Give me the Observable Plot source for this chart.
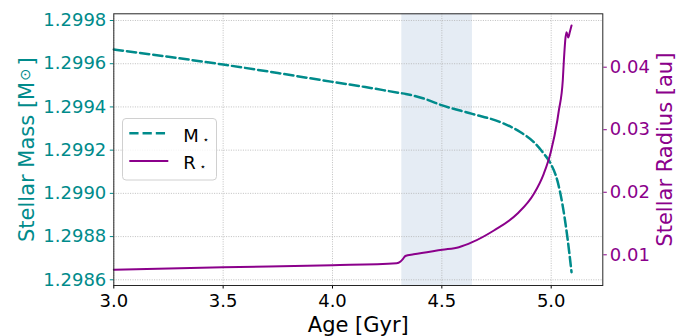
<!DOCTYPE html>
<html><head><meta charset="utf-8">
<script src="https://cdn.jsdelivr.net/npm/d3@7"></script>
<script src="https://cdn.jsdelivr.net/npm/@observablehq/plot@0.6"></script>
<style>
html,body{margin:0;padding:0;background:#fff;}
#wrap{position:relative;width:686px;height:336px;font-family:"DejaVu Sans",sans-serif;}
#legend{position:absolute;left:122px;top:118px;}
</style></head><body><div id="wrap"></div>
<script>
// ---- data ----
const massAge = [3.0, 3.25, 3.5, 3.75, 4.0, 4.15, 4.311, 4.335, 4.42, 4.502, 4.639, 4.769, 4.860, 4.921, 4.967, 4.998, 5.028, 5.051, 5.074, 5.093];
const massVal = [1.299666, 1.299632, 1.299596, 1.299557, 1.299516, 1.299492, 1.299464, 1.299460, 1.299438, 1.299407, 1.299368, 1.299329, 1.299283, 1.299237, 1.299183, 1.299137, 1.299060, 1.298952, 1.298797, 1.298635];
const radiusAge = [3.0, 3.5, 4.0, 4.294, 4.311, 4.322, 4.333, 4.371, 4.502, 4.578, 4.639, 4.738, 4.845, 4.921, 4.966, 4.998, 5.028, 5.035, 5.053, 5.058, 5.070, 5.078, 5.085, 5.093];
const radiusVal = [0.007601, 0.008017, 0.008337, 0.008657, 0.008929, 0.009328, 0.009808, 0.010080, 0.010800, 0.011215, 0.012015, 0.013886, 0.016557, 0.019755, 0.022954, 0.026408, 0.031478, 0.033077, 0.037875, 0.041073, 0.045599, 0.044751, 0.045599, 0.046671];
const bandRange = [4.317, 4.640];
const xTicks = [3.0, 3.5, 4.0, 4.5, 5.0];
const massTicks = [1.2986, 1.2988, 1.2990, 1.2992, 1.2994, 1.2996, 1.2998];
const radiusTicks = [0.01, 0.02, 0.03, 0.04];
const xLabel = "Age [Gyr]";
const massLabel = "Stellar Mass [M⊙]";
const radiusLabel = "Stellar Radius [au]";
const seriesNames = ["M", "R"];

// ---- scales ----
const xDomain = [3.0, 5.236];
const massDomain = [1.2985736, 1.299831];
const radiusDomain = [0.00509, 0.04854];
const teal = "#008b8b", purple = "#8b008b";
const rToMass = d3.scaleLinear().domain(radiusDomain).range(massDomain);

const massData = massAge.map((a, i) => ({age: a, v: massVal[i]}));
const radiusData = radiusAge.map((a, i) => ({age: a, v: rToMass(radiusVal[i])}));
const gridStyle = {stroke: "#b0b0b0", strokeOpacity: 1, strokeWidth: 0.8, strokeDasharray: "1,1.4"};

const chart = Plot.plot({
  width: 686, height: 336,
  marginLeft: 113.3, marginRight: 686 - 602.3, marginTop: 13.3, marginBottom: 51,
  style: {fontFamily: "DejaVu Sans", fontSize: "18px", background: "transparent", overflow: "visible"},
  x: {domain: xDomain},
  y: {domain: massDomain},
  marks: [
    Plot.rect([bandRange], {x1: d => d[0], x2: d => d[1], fill: "#b0c4de", fillOpacity: 0.33}),
    Plot.gridX(xTicks, gridStyle),
    Plot.gridY(massTicks, gridStyle),
    Plot.axisX(xTicks, {tickFormat: d => d.toFixed(1), tickSize: 3.5, tickPadding: 5.4, fontSize: 18, color: "#000", label: null}),
    Plot.axisY(massTicks, {anchor: "left", tickFormat: d => d.toFixed(4), tickSize: 3.5, tickPadding: 4, fontSize: 18, color: teal, label: null}),
    Plot.axisY(radiusTicks.map(rToMass), {anchor: "right", tickFormat: d => rToMass.invert(d).toFixed(2), tickSize: 3.5, tickPadding: 3.5, fontSize: 18, color: purple, label: null}),
    Plot.line(massData, {x: "age", y: "v", stroke: teal, strokeWidth: 2.5, strokeDasharray: "9.25,4", curve: "monotone-x"}),
    Plot.line(radiusData, {x: "age", y: "v", stroke: purple, strokeWidth: 2, curve: "monotone-x"}),
    Plot.frame({stroke: "#262626", strokeWidth: 1}),
    Plot.text([xLabel], {frameAnchor: "bottom", dy: 39.3, text: d => d, fontSize: 21, fill: "#000", textAnchor: "middle", lineAnchor: "middle"}),
    Plot.text([massLabel], {frameAnchor: "left", rotate: -90, dx: -86.4, text: d => d, fontSize: 21, fill: teal, textAnchor: "middle", lineAnchor: "middle"}),
    Plot.text([radiusLabel], {frameAnchor: "right", rotate: -90, dx: 62, text: d => d, fontSize: 21, fill: purple, textAnchor: "middle", lineAnchor: "middle"})
  ]
});
document.getElementById("wrap").appendChild(chart);

// subscript sun symbol
d3.select(chart).selectAll("text").each(function() {
  const t = this.textContent;
  if (t.includes("⊙") && this.children.length === 0) {
    const [a, b] = t.split("⊙");
    const el = d3.select(this);
    el.text(null);
    el.append("tspan").text(a);
    el.append("tspan").attr("font-size", "14.7px").attr("dx", 1).attr("dy", -3.7).text("⊙");
    el.append("tspan").attr("dx", 3).attr("dy", 3.7).text(b);
  }
});

// legend
const leg = d3.select("#wrap").append("svg").attr("id", "legend").attr("width", 97).attr("height", 64)
  .style("font-family", "DejaVu Sans").style("font-size", "18px");
leg.append("rect").attr("x", 0.5).attr("y", 0.5).attr("width", 94).attr("height", 61.5).attr("rx", 3.5)
  .attr("fill", "#fff").attr("fill-opacity", 0.8).attr("stroke", "#d0d0d0");
const styles = [{stroke: teal, w: 2.5, dash: "9.25,4"}, {stroke: purple, w: 2, dash: null}];
seriesNames.forEach((n, i) => {
  const y = 15.3 + i * 27.7;
  leg.append("line").attr("x1", 7.3).attr("x2", 46.3).attr("y1", y).attr("y2", y)
    .attr("stroke", styles[i].stroke).attr("stroke-width", styles[i].w).attr("stroke-dasharray", styles[i].dash);
  const tx = leg.append("text").attr("x", 61.3).attr("y", y + 8.4).attr("fill", "#000");
  tx.append("tspan").text(n);
  tx.append("tspan").attr("font-size", "10px").attr("dx", 4).attr("dy", 1).text("⋆");
});
</script>
</body></html>
